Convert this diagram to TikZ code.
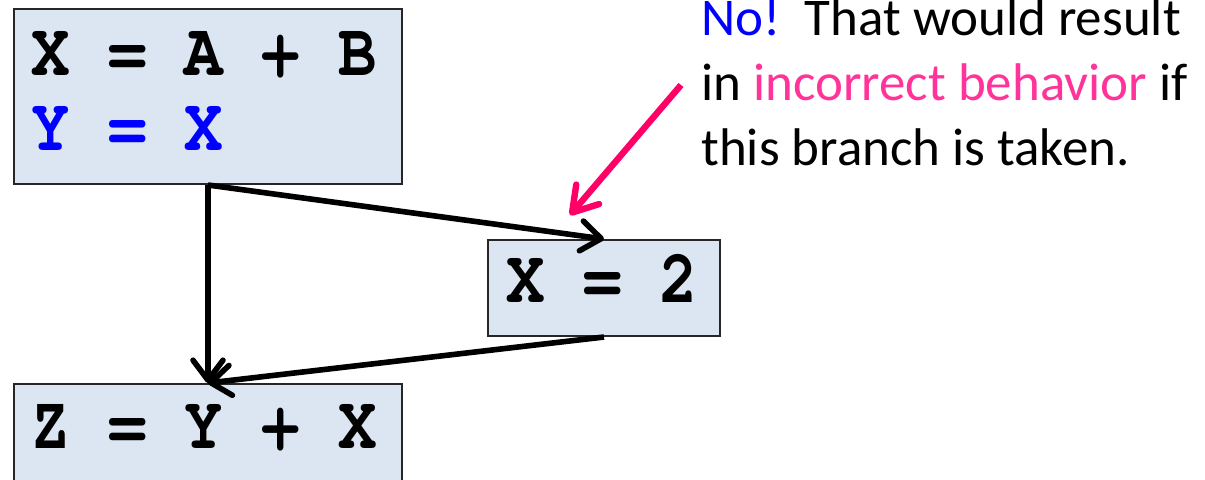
\documentclass[tikz,border=0pt]{standalone}
\usepackage{fontspec}
\setmainfont{Carlito}
\newfontfamily\codefont{TeX Gyre Cursor}
\usetikzlibrary{arrows.meta}
\definecolor{boxfill}{RGB}{220,230,242}
\definecolor{arrowpink}{RGB}{255,0,102}
\definecolor{textpink}{RGB}{255,51,153}
\definecolor{textblue}{RGB}{0,0,255}
\tikzset{
  codebox/.style={draw=black!85, line width=1pt, fill=boxfill, inner sep=0pt, anchor=north west},
  codetext/.style={font=\codefont\bfseries\fontsize{32}{38}\selectfont, inner sep=0pt, anchor=base west, yscale=1.18, transform shape},
  notetext/.style={font=\fontsize{26.5}{32.5}\selectfont, inner sep=0pt, anchor=base west},
  flow/.style={line width=2.8pt, -{Straight Barb[length=10pt,width=15pt,line cap=round,line join=round]}},
  hint/.style={line width=3.2pt, color=arrowpink, -{Straight Barb[length=12pt,width=15pt,line cap=round,line join=round]}}
}
\begin{document}
\begin{tikzpicture}[x=0.5pt,y=-0.5pt]
\useasboundingbox (0,0) rectangle (1205,479);
% boxes
\node[codebox, minimum width=194pt, minimum height=87.5pt] (b1) at (13,8) {};
\node[codebox, minimum width=116pt, minimum height=48pt] (b2) at (487,239) {};
\node[codebox, minimum width=194pt, minimum height=60pt] (b3) at (13,383) {};
% code text
\node[codetext] (t1) at (31,75) {X = A + B};
\node[codetext, text=textblue] (t2) at (31,150) {Y = X};
\node[codetext] (t3) at (506,302) {X = 2};
\node[codetext] (t4) at (31,448) {Z = Y + X};
% connectors
\draw[flow] (b1.south) -- (b3.north);
\draw[flow] (b1.south) -- (b2.north);
\draw[flow] (b2.south) -- (b3.north);
% comment
\node[notetext] (n1) at (701,35) {\textcolor{textblue}{No!}\ \ That would result};
\node[notetext] (n2) at (701,100) {in \textcolor{textpink}{incorrect behavior} if};
\node[notetext] (n3) at (701,165) {this branch is taken.};
\coordinate (p1) at (681,85);
\coordinate (p2) at (570,215);
\draw[hint] (p1) -- (p2);
\end{tikzpicture}
\end{document}
